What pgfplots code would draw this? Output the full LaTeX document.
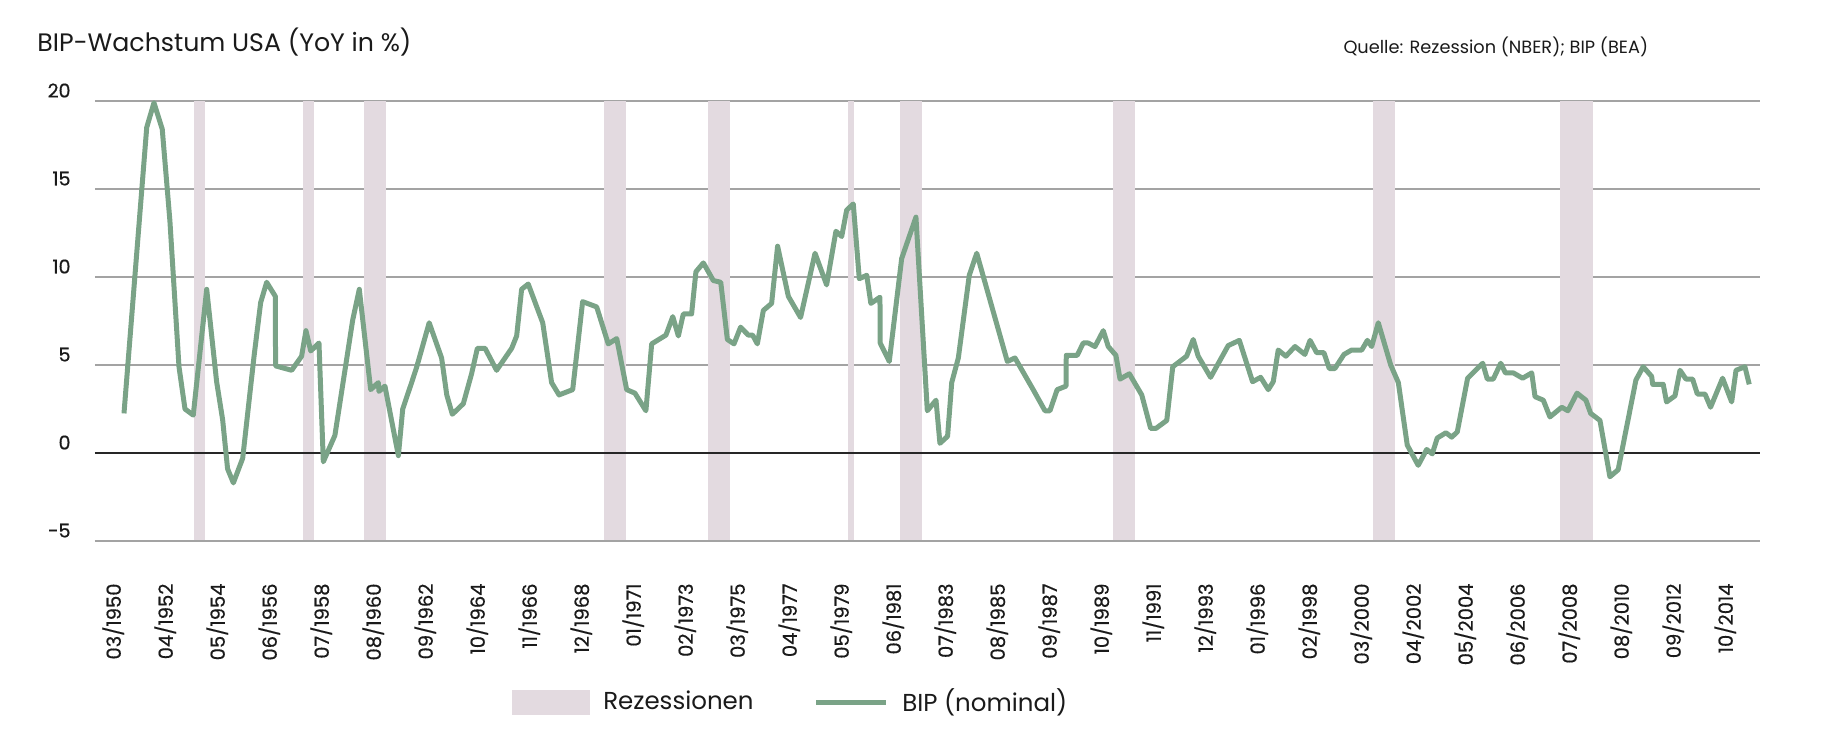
\documentclass[border=0pt]{standalone}
\usepackage{pgfplots}
\pgfplotsset{compat=1.18}
\usepackage{fontspec}
\setmainfont{Poppins}
\newfontfamily\tickfont[FakeBold=0.5]{Poppins}
\definecolor{gdpgreen}{HTML}{7AA387}
\definecolor{recc}{HTML}{E3DAE0}
\definecolor{gridgray}{HTML}{A3A3A3}
\definecolor{txt}{HTML}{1A1A1A}
\begin{document}
\begin{tikzpicture}
\useasboundingbox (-38pt,-80.4pt) rectangle (693.6pt,216.4pt);
\begin{axis}[
  at={(0,0)}, anchor=south west,
  scale only axis, width=666pt, height=176pt,
  xmin=-11.12, xmax=794.1, ymin=-5, ymax=20,
  enlargelimits=false,
  axis lines=left, axis line style={draw=none},
  major tick length=0pt,
  ytick={-5,0,5,10,15,20},
  ymajorgrids, grid style={gridgray, line width=0.6pt},
  /pgf/number format/assume math mode=true,
  yticklabel style={anchor=south east, inner sep=0pt, xshift=-9.6pt, yshift=1.2pt, font=\tickfont\fontsize{7.6}{8}\selectfont, text=txt},
  xtick={-2.27,22.88,48.02,73.17,98.32,123.47,148.61,173.76,198.91,224.05,249.20,274.35,299.49,324.64,349.79,374.94,400.08,425.23,450.38,475.52,500.67,525.82,550.96,576.11,601.26,626.41,651.55,676.70,701.85,726.99,752.14,777.29},
  xticklabels={03/1950,04/1952,05/1954,06/1956,07/1958,08/1960,09/1962,10/1964,11/1966,12/1968,01/1971,02/1973,03/1975,04/1977,05/1979,06/1981,07/1983,08/1985,09/1987,10/1989,11/1991,12/1993,01/1996,02/1998,03/2000,04/2002,05/2004,06/2006,07/2008,08/2010,09/2012,10/2014},
  xticklabel style={yshift=-16.8pt, rotate=90, anchor=east, inner sep=0pt, font=\tickfont\fontsize{7.8}{8}\selectfont, text=txt},
  legend columns=2,
  legend style={at={(0.2499,-0.366)}, anchor=west, draw=none, fill=none, inner sep=0pt,
    font=\fontsize{9.8}{11}\selectfont, text=txt,
    /tikz/every odd column/.append style={column sep=3.5pt},
    /tikz/every even column/.append style={column sep=22pt}},
]
% recessions
\addplot[fill=recc, draw=none, legend image code/.code={\fill[recc] (0pt,-5pt) rectangle (31.2pt,5pt);}]
  coordinates {(36.8,-5) (36.8,20) (41.9,20) (41.9,-5)} -- cycle;
\addlegendentry{Rezessionen}
\addplot[fill=recc, draw=none, forget plot] coordinates {(89.5,-5) (89.5,20) (94.6,20) (94.6,-5)} -- cycle;
\addplot[fill=recc, draw=none, forget plot] coordinates {(119.0,-5) (119.0,20) (129.5,20) (129.5,-5)} -- cycle;
\addplot[fill=recc, draw=none, forget plot] coordinates {(235.0,-5) (235.0,20) (245.5,20) (245.5,-5)} -- cycle;
\addplot[fill=recc, draw=none, forget plot] coordinates {(285.5,-5) (285.5,20) (295.8,20) (295.8,-5)} -- cycle;
\addplot[fill=recc, draw=none, forget plot] coordinates {(353.0,-5) (353.0,20) (355.8,20) (355.8,-5)} -- cycle;
\addplot[fill=recc, draw=none, forget plot] coordinates {(378.2,-5) (378.2,20) (388.7,20) (388.7,-5)} -- cycle;
\addplot[fill=recc, draw=none, forget plot] coordinates {(481.2,-5) (481.2,20) (491.7,20) (491.7,-5)} -- cycle;
\addplot[fill=recc, draw=none, forget plot] coordinates {(606.9,-5) (606.9,20) (617.4,20) (617.4,-5)} -- cycle;
\addplot[fill=recc, draw=none, forget plot] coordinates {(697.4,-5) (697.4,20) (713.2,20) (713.2,-5)} -- cycle;
% zero line and bottom line
\addplot[black!85, line width=0.6pt, forget plot] coordinates {(-11.12,0) (794.1,0)};
\addplot[gridgray, line width=0.6pt, forget plot] coordinates {(-11.12,-5) (794.1,-5)};
% GDP
\addplot[gdpgreen, line width=2pt, line join=round, line cap=butt,
  legend image code/.code={\draw[gdpgreen, line width=2pt] (0pt,0pt) -- (28pt,0pt);}]
  table {
2.9 2.25
13.9 18.5
17.4 19.9
21.4 18.4
25.1 13.2
29.5 4.9
32.4 2.5
36.4 2.15
42.9 9.3
47.7 4.05
50.6 1.9
53.0 -0.9
55.8 -1.7
60.3 -0.3
65.8 5.5
69.0 8.55
71.9 9.7
76.1 8.9
76.2 4.95
84.0 4.7
88.8 5.5
90.9 6.95
93.2 5.8
97.2 6.25
99.3 -0.5
104.9 1.0
113.5 7.55
116.7 9.3
122.2 3.6
125.9 4.0
126.2 3.5
129.1 3.8
135.6 -0.15
137.7 2.5
142.0 4.0
144.5 4.9
150.5 7.4
156.5 5.4
159.0 3.3
161.7 2.2
167.0 2.8
171.0 4.5
173.8 5.95
177.5 5.95
183.1 4.7
190.4 5.95
192.8 6.65
195.2 9.3
198.4 9.6
205.4 7.4
209.7 4.0
213.3 3.3
219.9 3.6
224.7 8.6
231.5 8.3
237.1 6.2
241.2 6.5
246.0 3.6
250.0 3.4
255.3 2.4
258.1 6.2
265.0 6.7
268.3 7.75
271.0 6.65
273.4 7.9
277.4 7.9
279.5 10.3
283.1 10.8
287.9 9.8
291.5 9.7
294.7 6.45
297.9 6.2
301.1 7.15
304.8 6.7
306.9 6.7
309.2 6.2
312.1 8.1
316.1 8.5
319.0 11.75
324.2 8.9
330.1 7.7
337.1 11.35
342.7 9.55
347.2 12.6
350.0 12.3
352.4 13.8
355.6 14.15
358.5 9.9
362.1 10.1
364.1 8.5
368.5 8.85
368.6 6.25
373.0 5.2
379.0 11.05
385.9 13.4
391.4 2.4
395.6 3.0
397.5 0.55
401.2 0.95
403.2 4.0
406.4 5.4
411.7 10.1
415.3 11.35
430.1 5.2
433.8 5.4
442.6 3.6
448.3 2.4
450.7 2.4
454.2 3.6
458.5 3.8
458.6 5.55
463.9 5.55
466.8 6.25
469.2 6.25
472.5 6.05
476.5 6.95
478.9 6.05
482.6 5.55
484.6 4.2
489.1 4.5
495.1 3.3
499.4 1.4
502.0 1.4
507.2 1.85
510.1 4.9
516.8 5.5
520.0 6.45
522.4 5.5
528.4 4.3
536.9 6.1
542.3 6.4
548.7 4.05
552.6 4.3
556.3 3.6
558.7 4.05
561.1 5.85
564.8 5.5
569.2 6.05
574.0 5.6
576.5 6.4
579.7 5.7
583.2 5.7
585.8 4.8
588.5 4.8
592.9 5.6
596.6 5.85
601.5 5.85
604.2 6.4
606.3 6.05
609.5 7.4
615.5 5.0
619.2 4.0
623.5 0.45
628.8 -0.7
632.9 0.2
635.6 -0.05
638.0 0.85
642.2 1.15
645.0 0.9
647.7 1.2
652.7 4.25
660.0 5.1
662.2 4.2
665.1 4.2
668.7 5.1
671.0 4.55
674.8 4.55
679.3 4.25
683.7 4.55
685.3 3.2
689.3 3.0
692.5 2.05
698.2 2.6
701.2 2.4
705.6 3.4
709.9 3.0
712.2 2.25
716.7 1.85
721.5 -1.35
725.5 -0.95
734.1 4.15
737.6 4.9
741.7 4.35
742.2 3.9
747.3 3.9
748.9 2.9
753.0 3.25
755.4 4.7
758.3 4.2
761.5 4.2
763.8 3.35
767.5 3.35
770.2 2.6
776.0 4.25
780.4 2.9
782.5 4.7
786.8 4.9
788.9 3.9
};
\addlegendentry{BIP (nominal)}
\end{axis}
\node[anchor=base west, inner sep=0pt, text=txt, font=\fontsize{10.1}{12}\selectfont] at (-23.2pt,195.6pt) {BIP-Wachstum USA (YoY in \%)};
\node[anchor=base west, inner sep=0pt, text=txt, font=\fontsize{7.1}{8}\selectfont] at (499.2pt,195.1pt) {Quelle: Rezession (NBER); BIP (BEA)};
\end{tikzpicture}
\end{document}
